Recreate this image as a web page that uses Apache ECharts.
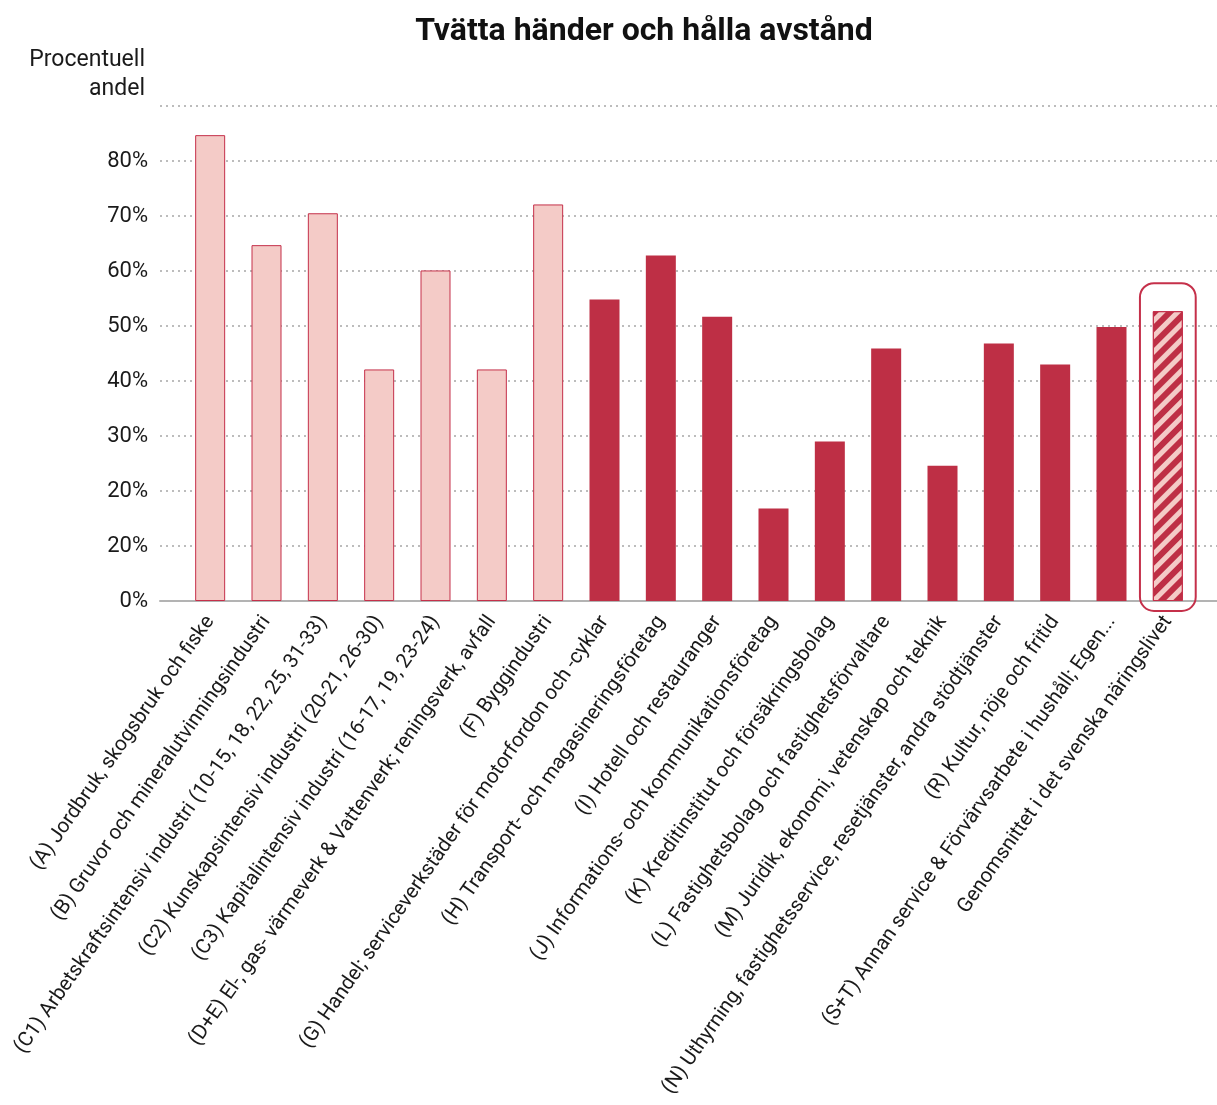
<!DOCTYPE html>
<html><head><meta charset="utf-8">
<script src="https://cdn.jsdelivr.net/npm/echarts@6/dist/echarts.min.js"></script>
<style>html,body{margin:0;padding:0;background:#fff}#c{width:1217px;height:1105px}</style>
</head><body><div id="c"></div>
<script>
const categories = [
  "(A) Jordbruk, skogsbruk och fiske",
  "(B) Gruvor och mineralutvinningsindustri",
  "(C1) Arbetskraftsintensiv industri (10-15, 18, 22, 25, 31-33)",
  "(C2) Kunskapsintensiv industri (20-21, 26-30)",
  "(C3) Kapitalintensiv industri (16-17, 19, 23-24)",
  "(D+E) El-, gas- värmeverk & Vattenverk; reningsverk, avfall",
  "(F) Byggindustri",
  "(G) Handel; serviceverkstäder för motorfordon och -cyklar",
  "(H) Transport- och magasineringsföretag",
  "(I) Hotell och restauranger",
  "(J) Informations- och kommunikationsföretag",
  "(K) Kreditinstitut och försäkringsbolag",
  "(L) Fastighetsbolag och fastighetsförvaltare",
  "(M) Juridik, ekonomi, vetenskap och teknik",
  "(N) Uthyrning, fastighetsservice, resetjänster, andra stödtjänster",
  "(R) Kultur, nöje och fritid",
  "(S+T) Annan service & Förvärvsarbete i hushåll; Egen...",
  "Genomsnittet i det svenska näringslivet"
];
const values = [84.7, 64.7, 70.5, 42.1, 60.1, 42.1, 72.1, 54.8, 62.8, 51.7, 16.8, 29.0, 45.9, 24.6, 46.8, 43.0, 49.8, 52.7];
// group of each bar: 'light' (industry), 'dark' (services), 'avg' (average)
const groups = ['light','light','light','light','light','light','light','dark','dark','dark','dark','dark','dark','dark','dark','dark','dark','avg'];
const yTickLabels = ['0%','20%','20%','30%','40%','50%','60%','70%','80%',''];
const highlightIndex = 17;

const LIGHT = '#f4cbc7', DARK = '#be2f45', BORDER = '#c5304a';

const barData = values.map((v, i) => {
  const g = groups[i];
  if (g === 'light') return {value: v, itemStyle: {color: LIGHT, borderColor: BORDER, borderWidth: 1}};
  if (g === 'dark') return {value: v, itemStyle: {color: DARK}};
  return {value: v, itemStyle: {color: LIGHT, borderColor: BORDER, borderWidth: 1,
    decal: {symbol: 'rect', color: DARK, dashArrayX: [1, 0], dashArrayY: [6, 5], rotation: -Math.PI / 4, symbolSize: 1}}};
});

const chart = echarts.init(document.getElementById('c'), null, {renderer: 'canvas'});
const FONT = 'Roboto';
chart.setOption({
  animation: false,
  textStyle: {fontFamily: FONT},
  title: {text: 'Tvätta händer och hålla avstånd', left: 639, top: 11, textAlign: 'center',
    textStyle: {fontFamily: FONT, fontSize: 32, fontWeight: 'bold', color: '#111'}},
  grid: [
    {left: 160, right: 0, top: 106, bottom: 504, containLabel: false},
    {left: 182, right: 21, top: 106, bottom: 504, containLabel: false}
  ],
  xAxis: [
    {gridIndex: 0, type: 'category', data: categories, show: true,
      axisLine: {show: true, lineStyle: {color: '#b3b3b3', width: 2}},
      axisTick: {show: false}, axisLabel: {show: false}},
    {gridIndex: 1, type: 'category', data: categories,
      axisLine: {show: false}, axisTick: {show: false},
      axisLabel: {rotate: 55, interval: 0, margin: 17, fontSize: 20.5, color: '#1a1a1a', fontFamily: FONT}}
  ],
  yAxis: [
    {gridIndex: 0, type: 'value', min: 0, max: 90, interval: 10,
      name: 'Procentuell\nandel', nameLocation: 'end', nameGap: 2,
      nameTextStyle: {align: 'right', verticalAlign: 'bottom', fontSize: 23, lineHeight: 29, color: '#1a1a1a', padding: [0, 15, 0, 0], fontFamily: FONT},
      axisLine: {show: false}, axisTick: {show: false},
      axisLabel: {fontSize: 22, color: '#1a1a1a', margin: 12, fontFamily: FONT,
        formatter: (v) => yTickLabels[Math.round(v / 10)]},
      splitLine: {show: true, lineStyle: {color: '#a6a6a6', type: [2, 4], width: 1.5}}},
    {gridIndex: 1, type: 'value', min: 0, max: 90, interval: 10, show: false, splitLine: {show: false}}
  ],
  series: [
    {type: 'bar', xAxisIndex: 1, yAxisIndex: 1, data: barData, barWidth: 30, z: 3},
    {type: 'custom', xAxisIndex: 1, yAxisIndex: 1, z: 4, clip: false,
      data: values.map((v, i) => [i, v]).filter(d => d[0] === highlightIndex),
      renderItem: function (params, api) {
        const top = api.coord([api.value(0), api.value(1)]);
        const base = api.coord([api.value(0), 0]);
        const w = api.size([1, 0])[0];
        const bw = w * 0.99;
        return {type: 'rect',
          shape: {x: top[0] - bw / 2, y: top[1] - 28, width: bw, height: base[1] - top[1] + 38, r: 14},
          style: {fill: 'none', stroke: BORDER, lineWidth: 2}};
      }}
  ]
});
</script></body></html>
